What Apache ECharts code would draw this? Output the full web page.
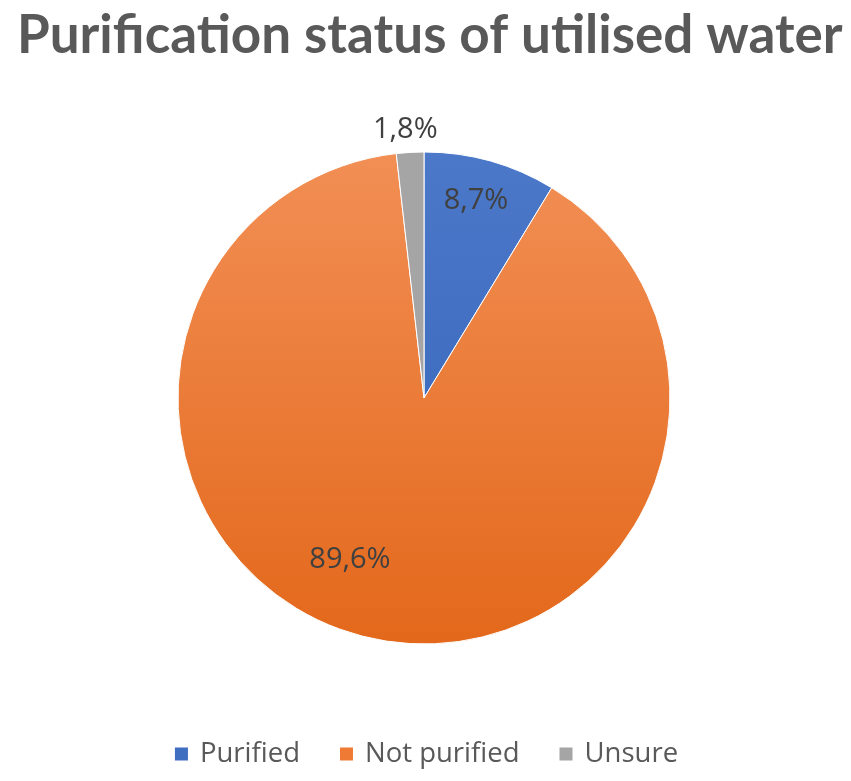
<!DOCTYPE html>
<html>
<head>
<meta charset="utf-8">
<script src="https://cdn.jsdelivr.net/npm/echarts@6/dist/echarts.min.js"></script>
<style>html,body{margin:0;padding:0;background:#fff}#c{width:851px;height:781px}</style>
</head>
<body>
<div id="c"></div>
<script>
const categories = ['Purified', 'Not purified', 'Unsure'];
const values = [8.7, 89.6, 1.8];
const labelTexts = ['8,7%', '89,6%', '1,8%'];

const colors = [
  {type:'linear',x:0,y:0,x2:0,y2:1,colorStops:[{offset:0,color:'#4C78C9'},{offset:1,color:'#3F6DC0'}]},
  {type:'linear',x:0,y:0,x2:0,y2:1,colorStops:[{offset:0,color:'#F28F55'},{offset:1,color:'#E3681B'}]},
  '#A5A5A5'
];
const legendColors = ['#3F6DC0', '#EE7A33', '#A5A5A5'];
const labelShift = [[18,-76],[-47,39],[33,-15]];

const chart = echarts.init(document.getElementById('c'));
chart.setOption({
  animation: false,
  title: {
    text: 'Purification status of utilised water',
    left: 12, top: 4,
    textStyle: {fontFamily: 'Lato', fontWeight: 'bold', fontSize: 53, color: '#595959'}
  },
  legend: {
    bottom: 8, left: 'center',
    itemWidth: 15, itemHeight: 15, itemGap: 38,
    icon: 'rect',
    textStyle: {fontFamily: 'Open Sans', fontSize: 27.5, color: '#595959', padding: [0,0,0,6]},
    data: categories.map((c,i)=>({name:c, itemStyle:{color:legendColors[i]}}))
  },
  series: [{
    type: 'pie',
    center: [424, 398],
    radius: [0, 246],
    startAngle: 90,
    clockwise: true,
    avoidLabelOverlap: false,
    itemStyle: {borderColor: '#fff', borderWidth: 1},
    emphasis: {disabled: true},
    data: categories.map((c,i)=>{
      const d = {name: c, value: values[i], itemStyle: {color: colors[i]},
        label: {formatter: labelTexts[i]}};
      if (i === 2) {
        d.label = {formatter: labelTexts[i], position: 'outside', alignTo: 'none'};
        d.labelLine = {show: false, length: 8, length2: 0};
      } else {
        d.label.position = 'inside';
      }
      return d;
    }),
    label: {
      fontFamily: 'Open Sans', fontSize: 29, color: '#404040'
    },
    labelLine: {show: false},
    labelLayout: function(p){
      const s = labelShift[p.dataIndex];
      return {dx: s[0], dy: s[1]};
    }
  }]
});
</script>
</body>
</html>
